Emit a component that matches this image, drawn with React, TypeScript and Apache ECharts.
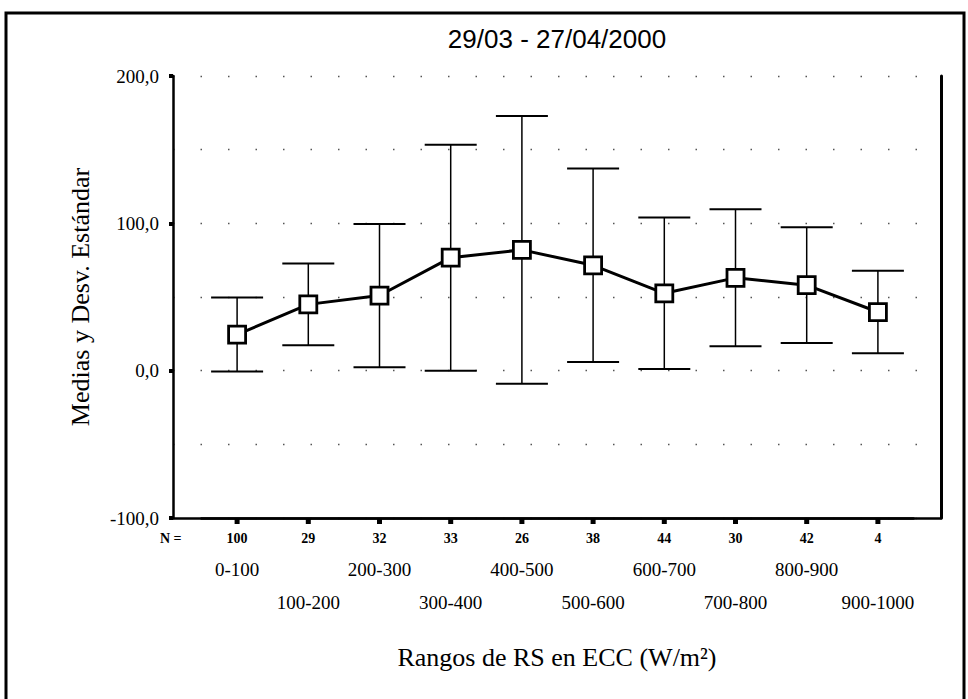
import React, { useEffect, useRef } from "react";
import * as echarts from "echarts";

const title = "29/03 - 27/04/2000";
const yName = "Medias y Desv. Estándar";
const xName = "Rangos de RS en ECC (W/m²)";
const categories = ["0-100", "100-200", "200-300", "300-400", "400-500", "500-600", "600-700", "700-800", "800-900", "900-1000"];
const nValues = ["100", "29", "32", "33", "26", "38", "44", "30", "42", "4"];
const means = [24.5, 45.0, 51.0, 76.7, 82.0, 71.5, 52.5, 63.0, 58.0, 39.8];
const sds = [25.1, 27.8, 48.6, 76.7, 90.8, 65.7, 51.4, 46.5, 39.3, 28.0];
const yMin = -100;
const yMax = 200;

const SERIF = "Liberation Serif";

export default function App() {
  const ref = useRef<HTMLDivElement>(null);
  useEffect(() => {
    if (!ref.current) return;
    const chart = echarts.init(ref.current, undefined, { renderer: "svg" });
    const errData = categories.map((c, i) => [i, means[i] - sds[i], means[i] + sds[i]]);
    const option: any = {
      animation: false,
      backgroundColor: "#fff",
      title: {
        text: title,
        left: 552,
        top: 21,
        textAlign: "center",
        textStyle: { fontFamily: "Liberation Sans", fontSize: 26, fontWeight: "normal", color: "#000" },
      },
      grid: [
        { left: 173, right: 27, top: 76, bottom: 181 },
        { left: 201.5, right: 54.5, top: 76, bottom: 181 },
      ],
      xAxis: [
        {
          type: "value",
          gridIndex: 0,
          position: "bottom",
          min: 0,
          max: 1,
          axisLine: { show: true, onZero: false, lineStyle: { color: "#000", width: 2.5 } },
          axisTick: { show: false },
          axisLabel: { show: false },
          splitLine: { show: false },
          name: xName,
          nameLocation: "middle",
          nameGap: 126,
          nameTextStyle: { fontFamily: SERIF, fontSize: 26, color: "#000", verticalAlign: "top" },
        },
        {
          type: "category",
          gridIndex: 1,
          position: "bottom",
          data: categories,
          axisLine: { show: true, onZero: false, lineStyle: { color: "#000", width: 2.5 } },
          axisTick: { show: false },
          axisLabel: {
            interval: 0,
            margin: 13,
            formatter: (v: string, i: number) => nValues[i],
            fontFamily: SERIF,
            fontSize: 14,
            fontWeight: "bold",
            color: "#000",
          },
        },
        {
          type: "category",
          gridIndex: 1,
          position: "bottom",
          data: categories,
          offset: 30,
          axisLine: { show: false, onZero: false },
          axisTick: { show: false },
          axisLabel: {
            interval: 0,
            margin: 12,
            formatter: (v: string, i: number) => (i % 2 === 0 ? v : ""),
            fontFamily: SERIF,
            fontSize: 19,
            color: "#000",
          },
        },
        {
          type: "category",
          gridIndex: 1,
          position: "bottom",
          data: categories,
          offset: 64,
          axisLine: { show: false, onZero: false },
          axisTick: { show: false },
          axisLabel: {
            interval: 0,
            margin: 11,
            formatter: (v: string, i: number) => (i % 2 === 1 ? v : ""),
            fontFamily: SERIF,
            fontSize: 19,
            color: "#000",
          },
        },
      ],
      yAxis: [
        {
          type: "value",
          gridIndex: 0,
          position: "left",
          min: yMin,
          max: yMax,
          interval: 100,
          axisLine: { show: true, onZero: false, lineStyle: { color: "#000", width: 2.5 } },
          axisTick: { show: true, length: 4, lineStyle: { color: "#000", width: 4 } },
          axisLabel: {
            margin: 14,
            formatter: (v: number) => v.toFixed(1).replace(".", ","),
            fontFamily: SERIF,
            fontSize: 19,
            color: "#000",
          },
          splitLine: { show: false },
          name: yName,
          nameLocation: "middle",
          nameGap: 80,
          nameTextStyle: { fontFamily: SERIF, fontSize: 26, color: "#000" },
        },
        {
          type: "value",
          gridIndex: 0,
          position: "right",
          min: yMin,
          max: yMax,
          interval: 50,
          axisLine: { show: true, onZero: false, lineStyle: { color: "#000", width: 3 } },
          axisTick: { show: false },
          axisLabel: { show: false },
          splitLine: { show: true, lineStyle: { color: "#555", width: 1.3, type: [1.5, 26] } },
        },
        {
          type: "value",
          gridIndex: 1,
          position: "left",
          min: yMin,
          max: yMax,
          interval: 100,
          axisLine: { show: false },
          axisTick: { show: false },
          axisLabel: { show: false },
          splitLine: { show: false },
        },
      ],
      graphic: [
        {
          type: "rect",
          shape: { x: 6, y: 13, width: 958, height: 740 },
          style: { fill: "none", stroke: "#000", lineWidth: 3 },
        },
        {
          type: "text",
          x: 160,
          y: 538,
          style: { text: "N =", fontFamily: SERIF, fontSize: 14, fontWeight: "bold", fill: "#000", verticalAlign: "middle" },
        },
      ],
      series: [
        {
          type: "custom",
          xAxisIndex: 1,
          yAxisIndex: 2,
          z: 2,
          clip: false,
          data: errData,
          renderItem: (params: any, api: any) => {
            const i = api.value(0);
            const lo = api.coord([i, api.value(1)]);
            const hi = api.coord([i, api.value(2)]);
            const base = api.coord([i, yMin]);
            const hw = 26;
            return {
              type: "group",
              children: [
                { type: "line", shape: { x1: lo[0], y1: lo[1], x2: hi[0], y2: hi[1] }, style: { stroke: "#000", lineWidth: 1.5 } },
                { type: "line", shape: { x1: hi[0] - hw, y1: hi[1], x2: hi[0] + hw, y2: hi[1] }, style: { stroke: "#000", lineWidth: 2 } },
                { type: "line", shape: { x1: lo[0] - hw, y1: lo[1], x2: lo[0] + hw, y2: lo[1] }, style: { stroke: "#000", lineWidth: 2 } },
                { type: "rect", shape: { x: base[0] - 2.5, y: base[1], width: 5, height: 6 }, style: { fill: "#000" } },
              ],
            };
          },
        },
        {
          type: "line",
          xAxisIndex: 1,
          yAxisIndex: 2,
          z: 5,
          data: means,
          symbol: "rect",
          symbolSize: 17,
          lineStyle: { color: "#000", width: 3 },
          itemStyle: { color: "#fff", borderColor: "#000", borderWidth: 2.8 },
        },
      ],
    };
    chart.setOption(option);
    return () => chart.dispose();
  }, []);
  return (
    <div
      ref={ref}
      style={{ position: "fixed", left: 0, top: 0, width: 968, height: 699, background: "#fff" }}
    />
  );
}
